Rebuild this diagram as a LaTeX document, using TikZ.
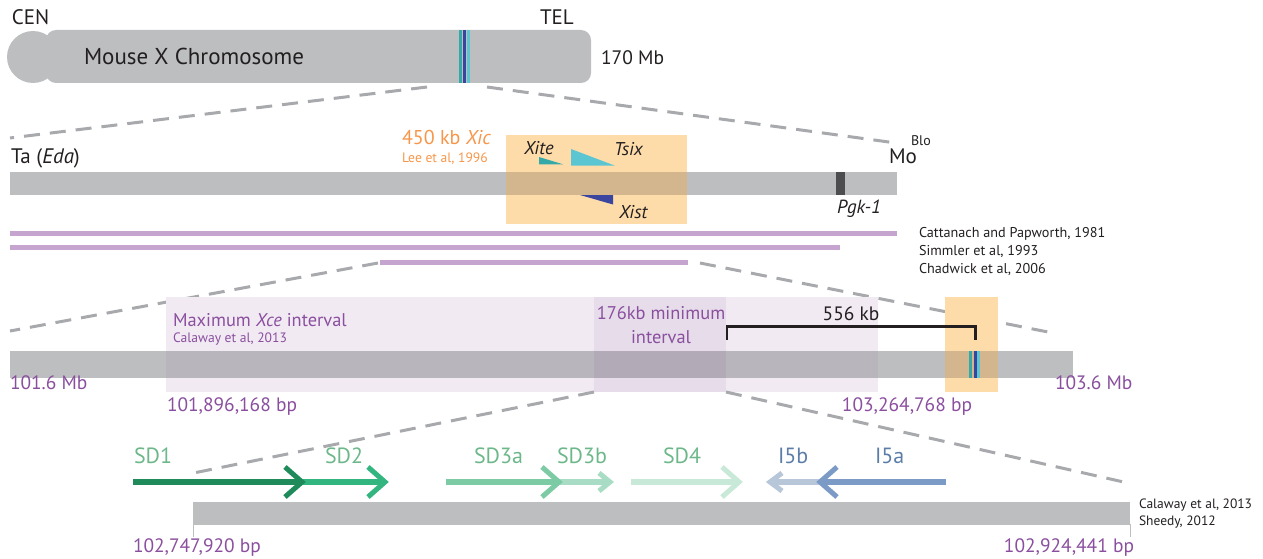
\documentclass[tikz,border=0pt]{standalone}
\usepackage{fontspec}
\setmainfont{PT Sans}
\usetikzlibrary{calc}
\definecolor{chrgray}{HTML}{BCBEC0}
\definecolor{dashgray}{HTML}{A7A9AC}
\definecolor{purptext}{HTML}{8A4F9E}
\definecolor{orgtext}{HTML}{F7964A}
\definecolor{orgbox}{HTML}{FDDCAA}
\definecolor{orgover}{HTML}{D4B68E}
\definecolor{purbar}{HTML}{C5A5D0}
\definecolor{maxbox}{HTML}{F1EAF3}
\definecolor{maxover}{HTML}{B9B5BD}
\definecolor{minbox}{HTML}{E6DCEA}
\definecolor{minover}{HTML}{B2AAB6}
\definecolor{bandteal}{HTML}{35A8A8}
\definecolor{banddark}{HTML}{3A45A0}
\definecolor{bandcyan}{HTML}{5BC5D1}
\definecolor{txtblack}{HTML}{231F20}
\definecolor{pgkgray}{HTML}{4D4D4F}
\definecolor{sdone}{HTML}{1F8A5A}
\definecolor{sdtwo}{HTML}{33B57F}
\definecolor{sdthreea}{HTML}{7DCBA5}
\definecolor{sdthreeb}{HTML}{A8DCC4}
\definecolor{sdfour}{HTML}{C8E8D8}
\definecolor{ifiveb}{HTML}{B8C6DA}
\definecolor{ifivea}{HTML}{7B9BC6}
\definecolor{sdtext}{HTML}{6DB88A}
\definecolor{itext}{HTML}{5B7DA8}
\newcommand{\fs}[1]{\fontsize{#1}{#1}\selectfont}
\begin{document}
\begin{tikzpicture}[x=1pt,y=-1pt,
  lbl/.style={inner sep=0pt, outer sep=0pt, anchor=base west, text=txtblack},
  lblc/.style={inner sep=0pt, outer sep=0pt, anchor=base, text=txtblack},
  lble/.style={inner sep=0pt, outer sep=0pt, anchor=base east, text=txtblack},
  zoomline/.style={draw=dashgray, line width=3pt, dash pattern=on 16pt off 10pt},
  band/.style={line width=3pt},
  shaft/.style={line width=5.5pt},
  barb/.style={line width=5pt, line join=miter},
  cite/.style={lbl, font=\fs{14.2}},
  bp/.style={font=\fs{19.4}, text=purptext},
  gene/.style={lbl, font=\fs{18.5}\itshape},
  sdl/.style={lbl, font=\fs{22}, text=sdtext},
  il/.style={lbl, font=\fs{22}, text=itext}]
\useasboundingbox (0,0) rectangle (1263,559);

% ---------- Row 1: chromosome ----------
\fill[chrgray] (33,57) circle (26);
\fill[chrgray, rounded corners=10pt] (46,30) rectangle (591,83);
\draw[band, bandteal] (460,30) -- (460,83);
\draw[band, banddark] (464,30) -- (464,83);
\draw[band, bandcyan] (468,30) -- (468,83);
\node[lbl, font=\fs{21}] (cen) at (12,25) {CEN};
\node[lbl, font=\fs{21}] (tel) at (540,25) {TEL};
\node[lbl, font=\fs{23}] (mxc) at (84,65) {Mouse X Chromosome};
\node[lbl, font=\fs{19.5}] (mb170) at (601,65) {170 Mb};
\coordinate (z1l) at (427,87);
\coordinate (z1r) at (487,87);
\coordinate (z1ll) at (10,138);
\coordinate (z1rr) at (896,143);
\draw[zoomline] (z1l) -- (z1ll);
\draw[zoomline] (z1r) -- (z1rr);

% ---------- Row 2 ----------
\fill[orgbox] (506,135) rectangle (687,224);
\fill[chrgray] (10,172) rectangle (897,194.5);
\fill[orgover] (506,172) rectangle (687,194.5);
\fill[pgkgray] (836,172) rectangle (845,194.5);
\fill[bandteal] (539,157) -- (539,164.3) -- (563,164.3) -- cycle;
\fill[bandcyan] (571,149) -- (571,165.7) -- (615,165.7) -- cycle;
\fill[banddark] (580,195) -- (613,195) -- (613,204.5) -- cycle;
\node[gene] (xite) at (524,154) {Xite};
\node[gene] (tsix) at (614,155) {Tsix};
\node[gene] (xist) at (619,218) {Xist};
\node[lbl, font=\fs{19}\itshape] (pgk) at (837,213) {Pgk-1};
\node[lbl, font=\fs{20}, text=orgtext] (xic) at (402,145) {450 kb \textit{Xic}};
\node[lbl, font=\fs{13.6}, text=orgtext] (lee) at (402,162.5) {Lee et al, 1996};
\node[lbl, font=\fs{21}] (ta) at (11,164) {Ta (\textit{Eda})};
\node[lbl, font=\fs{21}] (mo) at (889,163.5) {Mo};
\node[lbl, font=\fs{14}] (blo) at (911,145.5) {Blo};
\fill[purbar] (10,231) rectangle (897,236);
\fill[purbar] (10,245) rectangle (840,250);
\fill[purbar] (380,260) rectangle (688,265);
\node[cite] (c1) at (919,237.3) {Cattanach and Papworth, 1981};
\node[cite] (c2) at (919,255) {Simmler et al, 1993};
\node[cite] (c3) at (919,273) {Chadwick et al, 2006};
\coordinate (z2l) at (378,263);
\coordinate (z2r) at (700,263);
\coordinate (z2ll) at (10,331);
\coordinate (z2rr) at (1053,333);
\draw[zoomline] (z2l) -- (z2ll);
\draw[zoomline] (z2r) -- (z2rr);

% ---------- Row 3 ----------
\fill[maxbox] (166,297) rectangle (878,391.5);
\fill[minbox] (594,297) rectangle (726,391.5);
\fill[orgbox] (945,297) rectangle (997.5,391.5);
\fill[chrgray] (10,351) rectangle (1072.5,377.5);
\fill[maxover] (166,351) rectangle (878,377.5);
\fill[minover] (594,351) rectangle (726,377.5);
\fill[orgover] (945,351) rectangle (997.5,377.5);
\draw[band, bandteal] (970.5,351) -- (970.5,377.5);
\draw[band, banddark] (975,351) -- (975,377.5);
\draw[band, bandcyan] (978.5,351) -- (978.5,377.5);
\node[lbl, font=\fs{18.4}, text=purptext] (maxi) at (173,326) {Maximum \textit{Xce} interval};
\node[lbl, font=\fs{13.6}, text=purptext] (cal1) at (173,342.7) {Calaway et al, 2013};
\node[lblc, font=\fs{18.4}, text=purptext] (mini1) at (661,319.3) {176kb minimum};
\node[lblc, font=\fs{18.4}, text=purptext] (mini2) at (661,343) {interval};
\coordinate (brl) at (727,340);
\coordinate (brr) at (975.5,340);
\draw[line width=2.7pt, txtblack] (brl) -- ++(0,-13.5) -| (brr);
\node[lblc, font=\fs{19.4}] (kb556) at (851,320) {556 kb};
\node[lbl, bp] (mb1016) at (10,389) {101.6 Mb};
\node[lbl, bp] (bp1) at (167,411) {101,896,168 bp};
\node[lble, bp] (bp2) at (972,411.5) {103,264,768 bp};
\node[lbl, bp] (mb1036) at (1055,389) {103.6 Mb};
\coordinate (z3l) at (594,392);
\coordinate (z3r) at (726,392);
\coordinate (z3ll) at (196,472.5);
\coordinate (z3rr) at (1128,483);
\draw[zoomline] (z3l) -- (z3ll);
\draw[zoomline] (z3r) -- (z3rr);

% ---------- Row 4 ----------
\fill[chrgray] (193,501.5) rectangle (1130,524.5);
\draw[chrgray, line width=1pt] (193,524) -- (193,537);
\draw[chrgray, line width=1pt] (1130,524) -- (1130,537);
\node[lbl, bp] (bp3) at (133,552) {102,747,920 bp};
\node[lble, bp] (bp4) at (1134,552) {102,924,441 bp};
\node[lbl, font=\fs{13.5}] (cal2) at (1139,508) {Calaway et al, 2013};
\node[lbl, font=\fs{13.5}] (shd) at (1139,525) {Sheedy, 2012};

% arrows
\coordinate (a0) at (133,482);
\coordinate (a1) at (302,482);
\coordinate (a2) at (385,482);
\coordinate (b0) at (446,482);
\coordinate (b1) at (559,482);
\coordinate (b2) at (610,482);
\coordinate (c0) at (631,482);
\coordinate (c1) at (739,482);
\coordinate (d0) at (946,482);
\coordinate (d1) at (820,482);
\coordinate (d2) at (770,482);
\draw[shaft, sdtwo] (a1) -- (a2);
\draw[barb, sdtwo] ($(a2)+(-17,-15)$) -- (a2) -- ($(a2)+(-17,15)$);
\draw[shaft, sdone] (a0) -- (a1);
\draw[barb, sdone] ($(a1)+(-17,-15)$) -- (a1) -- ($(a1)+(-17,15)$);
\draw[shaft, sdthreeb] (b1) -- (b2);
\draw[barb, sdthreeb] ($(b2)+(-11,-9)$) -- (b2) -- ($(b2)+(-11,9)$);
\draw[shaft, sdthreea] (b0) -- (b1);
\draw[barb, sdthreea] ($(b1)+(-17,-15)$) -- (b1) -- ($(b1)+(-17,15)$);
\draw[shaft, sdfour] (c0) -- (c1);
\draw[barb, sdfour] ($(c1)+(-17,-15)$) -- (c1) -- ($(c1)+(-17,15)$);
\draw[shaft, ifiveb] (d1) -- (d2);
\draw[barb, ifiveb] ($(d2)+(12,-9)$) -- (d2) -- ($(d2)+(12,9)$);
\draw[shaft, ifivea] (d0) -- (d1);
\draw[barb, ifivea] ($(d1)+(17,-15)$) -- (d1) -- ($(d1)+(17,15)$);
\node[sdl] (sd1) at (134,463) {SD1};
\node[sdl] (sd2) at (325,463) {SD2};
\node[sdl] (sd3a) at (474,463) {SD3a};
\node[sdl] (sd3b) at (557,463) {SD3b};
\node[sdl] (sd4) at (663,463) {SD4};
\node[il] (i5b) at (778,463) {I5b};
\node[il] (i5a) at (875,463) {I5a};
\end{tikzpicture}
\end{document}
